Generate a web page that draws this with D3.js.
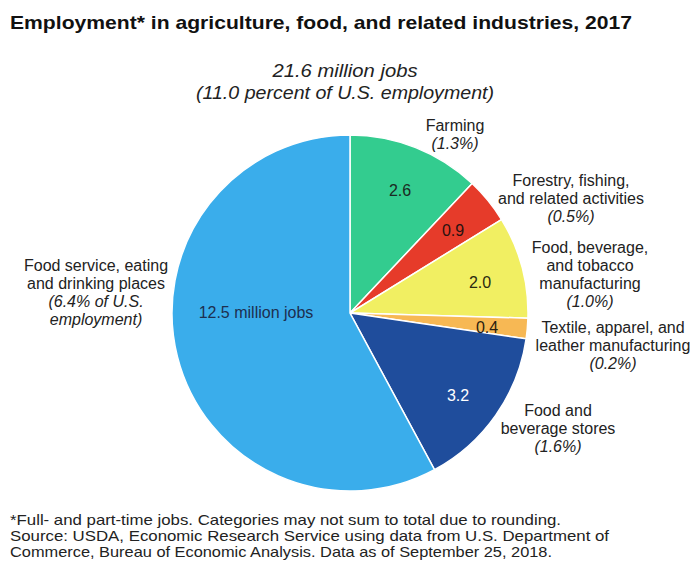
<!DOCTYPE html>
<html>
<head>
<meta charset="utf-8">
<script src="https://cdn.jsdelivr.net/npm/d3@7/dist/d3.min.js"></script>
<style>
  html, body { margin: 0; padding: 0; background: #fff; }
  svg { display: block; font-family: "Liberation Sans", Arial, sans-serif; }
</style>
</head>
<body>
<svg id="chart" width="696" height="562"></svg>
<script>
// Employment by sector, million jobs (2017)
const categories = [
  "Farming",
  "Forestry, fishing, and related activities",
  "Food, beverage, and tobacco manufacturing",
  "Textile, apparel, and leather manufacturing",
  "Food and beverage stores",
  "Food service, eating and drinking places"
];
const jobs = [2.6, 0.9, 2.0, 0.4, 3.2, 12.5];
const valueLabels = ["2.6", "0.9", "2.0", "0.4", "3.2", "12.5 million jobs"];
const colors = ["#33cc8f", "#e63b2a", "#f1ef62", "#f7b854", "#1f4d9c", "#3aadeb"];
const valueColors = ["#1b2a22", "#2a1210", "#2a2a10", "#2a2010", "#ffffff", "#1d2f50"];

// Outside label lines (name lines, then italic share line)
const nameLines = [
  ["Farming"],
  ["Forestry, fishing,", "and related activities"],
  ["Food, beverage,", "and tobacco", "manufacturing"],
  ["Textile, apparel, and", "leather manufacturing"],
  ["Food and", "beverage stores"],
  ["Food service, eating", "and drinking places"]
];
const shareLines = [
  ["(1.3%)"], ["(0.5%)"], ["(1.0%)"], ["(0.2%)"], ["(1.6%)"], ["(6.4% of U.S.", "employment)"]
];
// Label anchor (center x, first-line middle y)
const labelPos = [
  [455, 125], [571, 180], [590, 247], [613, 327], [558, 410], [96, 265]
];
const valuePos = [
  [400, 190], [453, 230], [480, 282], [487, 327], [458, 395], [256, 312]
];

const title = "Employment* in agriculture, food, and related industries, 2017";
const subtitle = ["21.6 million jobs", "(11.0 percent of U.S. employment)"];
const subtitleWidths = [145, 298];
const footnotes = [
  "*Full- and part-time jobs. Categories may not sum to total due to rounding.",
  "Source: USDA, Economic Research Service using data from U.S. Department of",
  "Commerce, Bureau of Economic Analysis. Data as of September 25, 2018."
];

const svg = d3.select("#chart");
const cx = 350, cy = 313, radius = 178;

// Title
svg.append("text")
  .attr("x", 10).attr("y", 29)
  .attr("font-size", 19).attr("font-weight", "bold").attr("fill", "#111")
  .attr("textLength", 622).attr("lengthAdjust", "spacingAndGlyphs")
  .text(title);

// Subtitle
svg.selectAll("text.sub").data(subtitle).join("text")
  .attr("class", "sub")
  .attr("x", 345).attr("y", (d, i) => 77 + i * 22)
  .attr("text-anchor", "middle")
  .attr("font-size", 18).attr("font-style", "italic").attr("fill", "#222")
  .attr("textLength", (d, i) => subtitleWidths[i]).attr("lengthAdjust", "spacingAndGlyphs")
  .text(d => d);

// Pie
const pie = d3.pie().sort(null).value(d => d)(jobs);
const arc = d3.arc().innerRadius(0).outerRadius(radius);
const g = svg.append("g").attr("transform", `translate(${cx},${cy})`);
g.selectAll("path").data(pie).join("path")
  .attr("d", arc)
  .attr("fill", (d, i) => colors[i])
  .attr("stroke", "#fff")
  .attr("stroke-width", 1.5);

// Values on slices
svg.selectAll("text.val").data(valueLabels).join("text")
  .attr("class", "val")
  .attr("x", (d, i) => valuePos[i][0])
  .attr("y", (d, i) => valuePos[i][1])
  .attr("dy", "0.35em")
  .attr("text-anchor", "middle")
  .attr("font-size", 16)
  .attr("fill", (d, i) => valueColors[i])
  .text(d => d);

// Category labels
categories.forEach((c, i) => {
  const [lx, ly] = labelPos[i];
  const lines = nameLines[i].map(t => ({ t, it: false }))
    .concat(shareLines[i].map(t => ({ t, it: true })));
  svg.append("g").selectAll("text").data(lines).join("text")
    .attr("x", lx)
    .attr("y", (d, j) => ly + j * 18)
    .attr("dy", "0.35em")
    .attr("text-anchor", "middle")
    .attr("font-size", 16)
    .attr("font-style", d => d.it ? "italic" : "normal")
    .attr("fill", "#222")
    .text(d => d.t);
});

// Footnotes
const fnWidths = [551, 599, 542];
svg.selectAll("text.fn").data(footnotes).join("text")
  .attr("class", "fn")
  .attr("x", 10).attr("y", (d, i) => 525 + i * 16)
  .attr("font-size", 15).attr("fill", "#222")
  .attr("textLength", (d, i) => fnWidths[i]).attr("lengthAdjust", "spacingAndGlyphs")
  .text(d => d);
</script>
</body>
</html>
